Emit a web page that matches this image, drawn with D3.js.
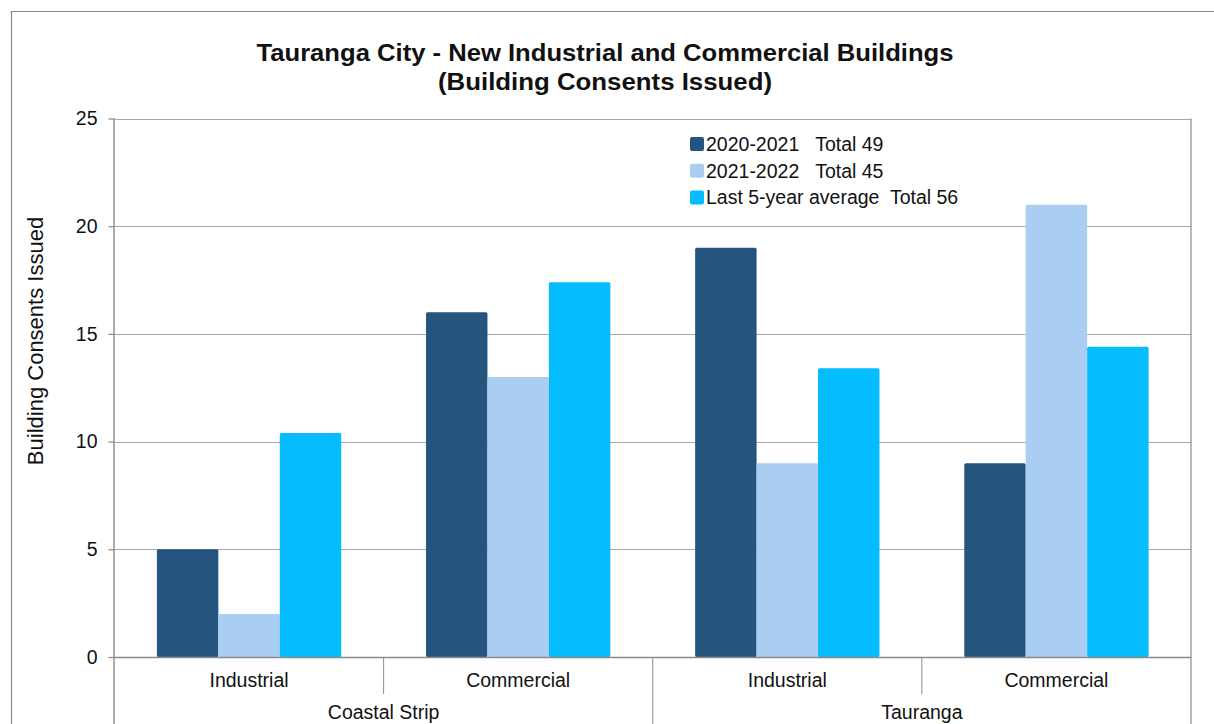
<!DOCTYPE html>
<html>
<head>
<meta charset="utf-8">
<script src="https://cdn.jsdelivr.net/npm/d3@7"></script>
<style>
  html, body { margin: 0; padding: 0; background: #fff; }
  svg { display: block; font-family: "Liberation Sans", Arial, sans-serif; }
</style>
</head>
<body>
<svg id="chart" width="1214" height="724"></svg>
<script>
// ---- data ----
const categories = ["Coastal Strip|Industrial", "Coastal Strip|Commercial", "Tauranga|Industrial", "Tauranga|Commercial"];
const subLabels = ["Industrial", "Commercial", "Industrial", "Commercial"];
const groups = ["Coastal Strip", "Tauranga"];
const seriesNames = ["2020-2021   Total 49", "2021-2022   Total 45", "Last 5-year average  Total 56"];
const series2021 = [5, 16, 19, 9];
const series2022 = [2, 13, 9, 21];
const seriesAvg = [10.4, 17.4, 13.4, 14.4];
const yTicks = [0, 5, 10, 15, 20, 25];
const titleLines = ["Tauranga City - New Industrial and Commercial Buildings", "(Building Consents Issued)"];
const yTitle = "Building Consents Issued";
const colors = ["#25557F", "#AACEF2", "#05BCFF"];

const seriesValues = [series2021, series2022, seriesAvg];

(function () {
const svg = d3.select("#chart");
const pLeft = 114.5, pRight = 1191, pTop = 118.5, pBottom = 657;
const fs = 19.5;

// outer frame
svg.append("path").attr("d", "M11.5,724 V11.5 H1214")
  .attr("fill", "none").attr("stroke", "#8a8a8a").attr("stroke-width", 1.2);

const y = d3.scaleLinear().domain([0, 25]).range([pBottom, pTop]);
const x0 = d3.scaleBand().domain(categories).range([pLeft, pRight]).padding(0);
const x1 = d3.scaleBand().domain(d3.range(3)).range([0, x0.bandwidth()]).paddingInner(0).paddingOuter(0.69);

// gridlines
svg.append("g").selectAll("line").data(yTicks.filter(d => d > 0)).join("line")
  .attr("x1", pLeft).attr("x2", pRight)
  .attr("y1", d => Math.round(y(d)) + 0.5).attr("y2", d => Math.round(y(d)) + 0.5)
  .attr("stroke", "#a8a8a8").attr("stroke-width", 1.2);

// right border
svg.append("line").attr("x1", pRight).attr("x2", pRight).attr("y1", pTop).attr("y2", 724)
  .attr("stroke", "#8a8a8a").attr("stroke-width", 1.2);

// bars
const barData = [];
categories.forEach((c, ci) => {
  seriesValues.forEach((vals, si) => barData.push({ c, si, v: vals[ci] }));
});
svg.append("g").selectAll("rect").data(barData).join("rect")
  .attr("x", d => x0(d.c) + x1(d.si))
  .attr("y", d => y(d.v))
  .attr("width", x1.bandwidth())
  .attr("height", d => y(0) - y(d.v))
  .attr("rx", 1.5)
  .attr("fill", d => colors[d.si]);

// y axis
const yAxis = d3.axisLeft(y).tickValues(yTicks).tickSize(6).tickPadding(11);
const gy = svg.append("g").attr("transform", `translate(${pLeft},0)`).call(yAxis);
gy.select(".domain").attr("d", `M-0.5,${pTop} V724`).attr("stroke", "#8a8a8a").attr("stroke-width", 1.4);
gy.selectAll(".tick line").attr("stroke", "#8a8a8a").attr("stroke-width", 1.2);
gy.selectAll(".tick text").attr("font-size", fs).attr("fill", "#111")
  .attr("font-family", "Liberation Sans, Arial, sans-serif");

// x axis baseline
svg.append("line").attr("x1", pLeft).attr("x2", pRight).attr("y1", pBottom + 0.5).attr("y2", pBottom + 0.5)
  .attr("stroke", "#8a8a8a").attr("stroke-width", 1.4);

// category separators
categories.forEach((c, i) => {
  if (i === 0) return;
  const xs = x0(c);
  const isGroupBoundary = c.split("|")[0] !== categories[i - 1].split("|")[0];
  svg.append("line").attr("x1", xs).attr("x2", xs)
    .attr("y1", pBottom).attr("y2", isGroupBoundary ? 724 : 694)
    .attr("stroke", "#8a8a8a").attr("stroke-width", 1);
});

// sub labels
svg.append("g").selectAll("text").data(categories).join("text")
  .attr("x", d => x0(d) + x0.bandwidth() / 2)
  .attr("y", 687)
  .attr("text-anchor", "middle").attr("font-size", fs).attr("fill", "#111")
  .text((d, i) => subLabels[i]);

// group labels
groups.forEach(g => {
  const cats = categories.filter(c => c.split("|")[0] === g);
  const xa = x0(cats[0]), xb = x0(cats[cats.length - 1]) + x0.bandwidth();
  svg.append("text").attr("x", (xa + xb) / 2).attr("y", 719)
    .attr("text-anchor", "middle").attr("font-size", fs).attr("fill", "#111").text(g);
});

// title
const titleWidths = [697, 334];
svg.append("g").selectAll("text").data(titleLines).join("text")
  .attr("x", 605).attr("y", (d, i) => 61 + i * 29)
  .attr("text-anchor", "middle").attr("font-size", 23.5).attr("font-weight", "bold").attr("fill", "#111")
  .attr("textLength", (d, i) => titleWidths[i]).attr("lengthAdjust", "spacingAndGlyphs")
  .text(d => d);

// y title
svg.append("text").attr("transform", "translate(43,341) rotate(-90)")
  .attr("text-anchor", "middle").attr("font-size", 22).attr("fill", "#111").text(yTitle);

// legend
const lg = svg.append("g").attr("transform", "translate(690,144)");
const items = lg.selectAll("g").data(seriesNames).join("g")
  .attr("transform", (d, i) => `translate(0,${i * 26.8})`);
items.append("rect").attr("x", 0).attr("y", -7).attr("width", 14).attr("height", 14).attr("rx", 2)
  .attr("fill", (d, i) => colors[i]);
items.append("text").attr("x", 16).attr("y", 6.8).attr("font-size", fs).attr("fill", "#111")
  .attr("xml:space", "preserve").style("white-space", "pre").text(d => d);
})();
</script>
</body>
</html>
